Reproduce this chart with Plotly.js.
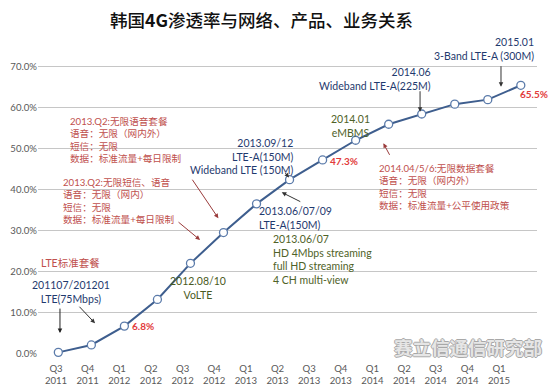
<!DOCTYPE html>
<html>
<head>
<meta charset="utf-8">
<script src="https://cdn.plot.ly/plotly-3.0.1.min.js"></script>
<style>html,body{margin:0;padding:0;background:#fff;}#chart{width:550px;height:386px;}</style>
</head>
<body>
<div id="chart"></div>
<script>
// ---- data ----
const quarters = ['Q3','Q4','Q1','Q2','Q3','Q4','Q1','Q2','Q3','Q4','Q1','Q2','Q3','Q4','Q1'];
const years    = ['2011','2011','2012','2012','2012','2012','2013','2013','2013','2013','2014','2014','2014','2014','2015'];
const penetration = [0.004, 0.022, 0.068, 0.133, 0.221, 0.296, 0.366, 0.425, 0.473, 0.521, 0.560, 0.585, 0.609, 0.620, 0.655];
const yTicks = [0, 0.1, 0.2, 0.3, 0.4, 0.5, 0.6, 0.7];
const labelledPoints = [2, 8, 14];

const idx = quarters.map((_, i) => i);
const tickText = quarters.map((q, i) => q + '<br>' + years[i]);

const LAT = 'Lato, "Noto Sans CJK SC", sans-serif';
const CJK = '"Noto Sans CJK SC", Lato, sans-serif';
const BLUE = '#1F3A6E', RED = '#C0504D', OLIVE = '#4F6228', PRED = '#E23B3B';

const traces = [
  {
    x: idx, y: penetration, type: 'scatter', mode: 'lines+markers',
    xaxis: 'x', yaxis: 'y',
    line: {color: '#3E5E8E', width: 2},
    marker: {symbol: 'circle', size: 8, color: '#ffffff', line: {color: '#5B7BAA', width: 1.3}},
    hoverinfo: 'skip', cliponaxis: false
  },
  { // carrier for the category tick-label axis
    x: idx, y: penetration, type: 'scatter', mode: 'markers',
    xaxis: 'x2', yaxis: 'y', marker: {opacity: 0, size: 1}, hoverinfo: 'skip', showlegend: false
  }
];

function txt(text, x, y, color, extra) {
  return Object.assign({
    text: text, x: x, y: y, xref: 'x', yref: 'y', showarrow: false,
    font: {family: LAT, size: 10.5, color: color}
  }, extra || {});
}
function arrow(x, y, ax, ay, color) {
  return {text: '', x: x, y: y, xref: 'x', yref: 'y', ax: ax, ay: ay, axref: 'pixel', ayref: 'pixel',
    showarrow: true, arrowhead: 2, arrowsize: 0.9, arrowwidth: 1, arrowcolor: color, standoff: 0, startstandoff: 0};
}

const annotations = [
  txt('201107/201201<br>LTE(75Mbps)', 0.385, 0.151, BLUE),
  arrow(0.05, 0.051, 0, -26, '#222'),
  arrow(1.111, 0.075, -17, -18, '#333'),
  txt('LTE标准套餐', 0.354, 0.222, RED, {font: {family: LAT, size: 10.5, color: RED}}),
  txt('2012.08/10<br>VoLTE', 4.23, 0.160, '#4A5A22'),
  txt('2013.Q2:无限语音套餐<br>语音：无限（网内外）<br>短信：无限<br>数据：标准流量+每日限制', 0.294, 0.521, RED,
      {xanchor: 'left', align: 'left', font: {family: LAT, size: 9.6, color: RED}}),
  arrow(4.844, 0.331, -27, -40, '#9A3B3B'),
  txt('2013.Q2:无限短信、语音<br>语音：无限（网内）<br>短信：无限<br>数据：标准流量+每日限制', 0.067, 0.373, RED,
      {xanchor: 'left', align: 'left', font: {family: LAT, size: 9.6, color: RED}}),
  arrow(4.29, 0.278, -23, -19, '#9A3B3B'),
  txt('2013.09/12<br>LTE-A(150M)<br>Wideband LTE (150M)', 7.166, 0.482, BLUE, {xanchor: 'right', align: 'right'}),
  arrow(6.985, 0.430, -5, -6, '#333'),
  txt('2013.06/07/09<br>LTE-A(150M)', 6.016, 0.331, BLUE, {xanchor: 'left', align: 'left'}),
  arrow(6.764, 0.394, 20, 10, '#333'),
  txt('2013.06/07<br>HD 4Mbps streaming<br>full HD streaming<br>4 CH multi-view', 6.44, 0.2315, OLIVE,
      {xanchor: 'left', align: 'left'}),
  txt('2014.01<br>eMBMS', 8.83, 0.556, OLIVE),
  txt('2014.04/5/6:无限数据套餐<br>语音：无限（网内外）<br>短信：无限<br>数据：标准流量+公平使用政策', 9.658, 0.407, RED,
      {xanchor: 'left', align: 'left', font: {family: LAT, size: 9.6, color: RED}}),
  arrow(9.84, 0.5135, 7, 13, '#9A3B3B'),
  txt('2014.06<br>Wideband LTE-A(225M)', 11.344, 0.6705, BLUE, {xanchor: 'right', align: 'right'}),
  arrow(10.95, 0.5905, 0, -22, '#333'),
  txt('2015.01<br>3-Band LTE-A (300M)', 14.463, 0.7436, BLUE, {xanchor: 'right', align: 'right'}),
  arrow(13.40, 0.6515, 0, -22, '#333'),
  {
    text: '赛立信通信研究部', x: 12.40, y: 0.017, xref: 'x', yref: 'y', showarrow: false,
    bgcolor: 'rgba(255,255,255,0.9)', borderpad: 0,
    font: {family: CJK, size: 18.5, weight: 'bold', color: '#E6E6E6',
           shadow: '1px 0 0 #A8A8A8, -1px 0 0 #A8A8A8, 0 1px 0 #A8A8A8, 0 -1px 0 #A8A8A8'}
  }
];

const shifts = {2: [19, 0], 8: [21, -1], 14: [13, -9]};
labelledPoints.forEach(i => {
  annotations.push({
    text: (penetration[i] * 100).toFixed(1) + '%', x: i, y: penetration[i], xref: 'x', yref: 'y',
    showarrow: false, xshift: shifts[i][0], yshift: shifts[i][1],
    font: {family: LAT, size: 10, weight: 'bold', color: PRED}
  });
});

const layout = {
  width: 550, height: 386,
  margin: {l: 38, r: 13, t: 34, b: 32, pad: 0},
  paper_bgcolor: '#ffffff', plot_bgcolor: '#ffffff',
  showlegend: false,
  title: {
    text: '韩国<b>4G</b>渗透率与网络、产品、业务关系',
    x: 0.4755, xref: 'container', xanchor: 'center',
    y: 0.945, yref: 'container', yanchor: 'middle',
    font: {family: CJK, size: 17.5, weight: 500, color: '#111111'}
  },
  xaxis: {type: 'linear', range: [-0.615, 14.49], showgrid: false, zeroline: false,
          showticklabels: false, ticks: '', showline: false, fixedrange: true},
  xaxis2: {type: 'linear', overlaying: 'x', anchor: 'y', side: 'bottom', range: [-0.569, 15.2],
           tickvals: idx, ticktext: tickText, showgrid: false, zeroline: false, ticks: '', showline: false,
           ticklabelstandoff: 7,
           tickfont: {family: LAT, size: 9.6, color: '#595959'}, fixedrange: true},
  yaxis: {range: [0, 0.78], tickvals: yTicks, tickformat: '.1%', showgrid: true, gridcolor: '#C6C6C6',
          gridwidth: 1, zeroline: false, showline: false, ticks: '',
          tickfont: {family: LAT, size: 9.6, color: '#595959'}, fixedrange: true},
  annotations: annotations
};

Plotly.newPlot('chart', traces, layout, {staticPlot: true, displayModeBar: false});
</script>
</body>
</html>
